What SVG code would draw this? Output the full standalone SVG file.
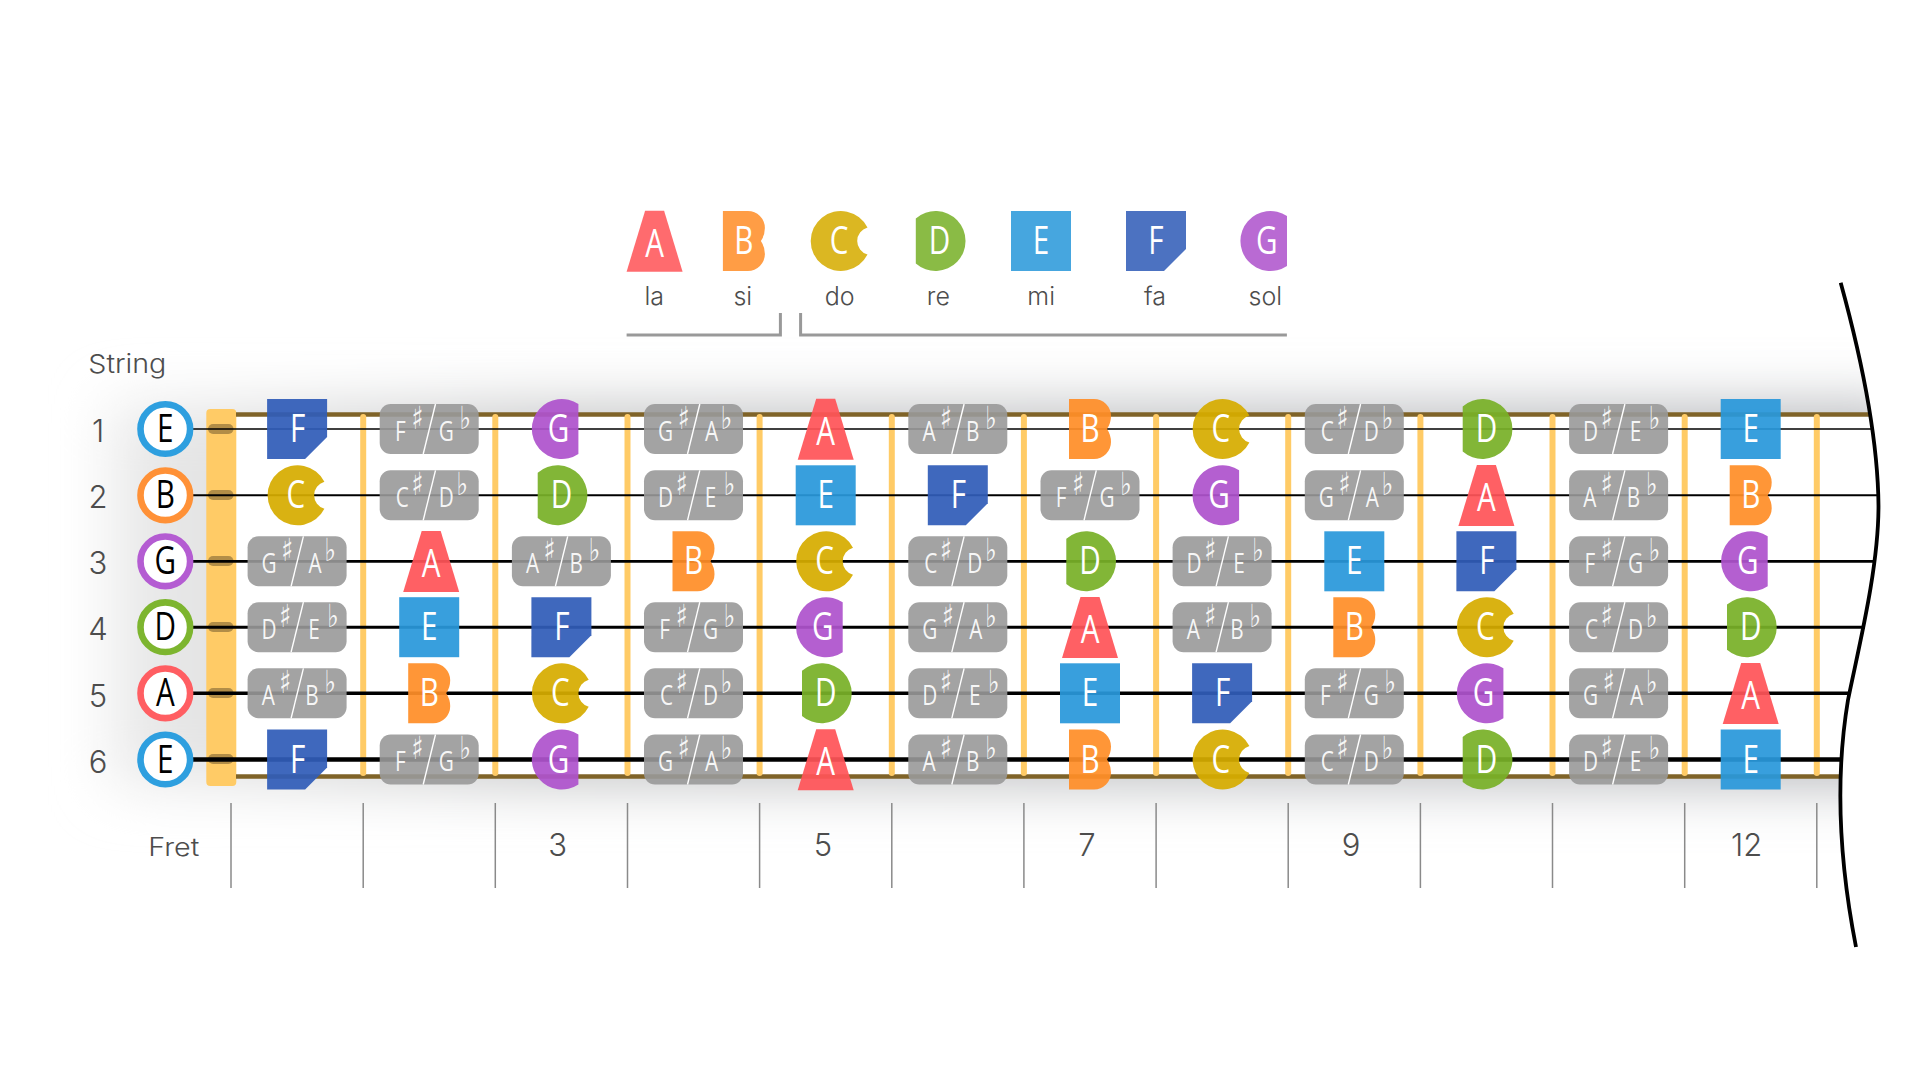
<svg xmlns="http://www.w3.org/2000/svg" width="1916" height="1080" viewBox="0 0 1916 1080">
<style>
.n{font-family:"Open Sans","Liberation Sans",sans-serif;font-size:38px;fill:#fff;text-anchor:middle;transform:scale(.78,1)}
.k{fill:#000}
.p{font-family:"Open Sans","Liberation Sans",sans-serif;font-size:26.6px;fill:#fff;fill-opacity:.92;text-anchor:middle;transform:scale(.78,1)}
.s{font-family:"DejaVu Sans",sans-serif;font-size:32px}
.t{font-family:Inter,"Liberation Sans",sans-serif;font-weight:300;fill:#4d4d4d;text-anchor:middle}
.num{font-size:31px}
.lab{font-size:25px}
.ring{fill:#fff;stroke-width:6.6}
.str{stroke:#000;fill:none}
.fret{stroke:#ffcb66;stroke-width:6;stroke-linecap:round}
.tick{stroke:#8a8a8a;stroke-width:1.5}
.slot{fill:#000;fill-opacity:.3}
.brown{stroke:#7f6328;fill:none}
.fa{fill:#ff5458;fill-opacity:.93}
.fb{fill:#ff8e28;fill-opacity:.93}
.fc{fill:#d6ac00;fill-opacity:.93}
.fd{fill:#78b028;fill-opacity:.93}
.fe{fill:#2998da;fill-opacity:.93}
.ff{fill:#305cb8;fill-opacity:.93}
.fg{fill:#ae53cc;fill-opacity:.93}
.leg{opacity:.93}
</style>
<defs>
<filter id="blur" filterUnits="userSpaceOnUse" x="0" y="250" width="1916" height="700"><feGaussianBlur stdDeviation="28"/></filter>
<linearGradient id="shade" x1="0" x2="1" y1="0" y2="0"><stop offset="0" stop-color="#ececec"/><stop offset=".25" stop-color="#c6c7c8"/><stop offset="1" stop-color="#b8babe"/></linearGradient>
<clipPath id="edge"><path d="M0,200 L1840.7,200 L1840.7,282.7 C1862,360 1878,440 1878.5,506 C1878.5,570 1858,650 1848,700 C1838,760 1835,840 1856,947 L0,947Z"/></clipPath>
<path id="A" class="fa" d="M-9.5,-30.3 H9.5 L28,30.7 H-28Z"/>
<path id="B" class="fb" d="M-21,-30 H4 A17,17 0 0 1 21,-13 Q21,-6 17,0 Q21,6 21,13 A17,17 0 0 1 4,30 H-21Z"/>
<path id="C" class="fc" d="M27.3,-13.5 A30,30 0 1 0 27.3,13.5 A14,14 0 0 1 27.3,-13.5Z"/>
<path id="D" class="fd" d="M-23.7,-22.6 A30,30 0 1 1 -23.7,22.6Z"/>
<rect id="E" class="fe" x="-30" y="-30" width="60" height="60"/>
<path id="F" class="ff" d="M-30,-30 H30 V8 L8,30 H-30Z"/>
<path id="G" class="fg" d="M17,-25 A30,30 0 1 0 17,25Z"/>
<g id="pill"><rect x="-49.5" y="-25" width="99" height="50" rx="11" fill="#999" fill-opacity=".9"/><line x1="6.3" y1="-25" x2="-6" y2="25" stroke="#fff" stroke-width="1.4"/></g>
</defs>

<g id="board">
<rect x="110" y="404" width="1800" height="382" fill="url(#shade)" filter="url(#blur)" clip-path="url(#edge)"/>
<rect x="220" y="414" width="1690" height="363" fill="#fff" clip-path="url(#edge)"/>
<rect x="206.3" y="409" width="30" height="377" rx="4" fill="#ffcb66"/>
</g>

<g id="connectors">
<line class="brown" stroke-width="4.3" x1="236" y1="414.5" x2="1869" y2="414.5"/>
<line class="brown" stroke-width="4.7" x1="236" y1="776.5" x2="1840" y2="776.5"/>
<g id="frets">
<line class="fret" x1="363.2" y1="417" x2="363.2" y2="773"/>
<line class="fret" x1="495.3" y1="417" x2="495.3" y2="773"/>
<line class="fret" x1="627.5" y1="417" x2="627.5" y2="773"/>
<line class="fret" x1="759.6" y1="417" x2="759.6" y2="773"/>
<line class="fret" x1="891.8" y1="417" x2="891.8" y2="773"/>
<line class="fret" x1="1023.9" y1="417" x2="1023.9" y2="773"/>
<line class="fret" x1="1156.1" y1="417" x2="1156.1" y2="773"/>
<line class="fret" x1="1288.2" y1="417" x2="1288.2" y2="773"/>
<line class="fret" x1="1420.4" y1="417" x2="1420.4" y2="773"/>
<line class="fret" x1="1552.5" y1="417" x2="1552.5" y2="773"/>
<line class="fret" x1="1684.7" y1="417" x2="1684.7" y2="773"/>
<line class="fret" x1="1816.8" y1="417" x2="1816.8" y2="773"/>
</g>
<g id="slots">
<rect class="slot" x="208" y="424" width="25.5" height="10" rx="5"/>
<rect class="slot" x="208" y="490" width="25.5" height="10" rx="5"/>
<rect class="slot" x="208" y="556" width="25.5" height="10" rx="5"/>
<rect class="slot" x="208" y="622" width="25.5" height="10" rx="5"/>
<rect class="slot" x="208" y="688" width="25.5" height="10" rx="5"/>
<rect class="slot" x="208" y="754" width="25.5" height="10" rx="5"/>
</g>
<g id="strings">
<line class="str" stroke-width="1.7" x1="193" y1="429" x2="1871" y2="429"/>
<line class="str" stroke-width="2" x1="193" y1="495.3" x2="1877.5" y2="495.3"/>
<line class="str" stroke-width="2.7" x1="193" y1="561.3" x2="1873" y2="561.3"/>
<line class="str" stroke-width="3" x1="193" y1="627.2" x2="1865" y2="627.2"/>
<line class="str" stroke-width="3.4" x1="193" y1="693.3" x2="1850" y2="693.3"/>
<line class="str" stroke-width="4.4" x1="193" y1="759.5" x2="1841" y2="759.5"/>
</g>
<path id="edge-line" d="M1840.7,282.7 C1862,360 1878,440 1878.5,506 C1878.5,570 1858,650 1848,700 C1838,760 1835,840 1856,947" fill="none" stroke="#000" stroke-width="3.8"/>
<g id="ticks">
<line class="tick" x1="231" y1="803" x2="231" y2="888"/>
<line class="tick" x1="363.2" y1="803" x2="363.2" y2="888"/>
<line class="tick" x1="495.3" y1="803" x2="495.3" y2="888"/>
<line class="tick" x1="627.5" y1="803" x2="627.5" y2="888"/>
<line class="tick" x1="759.6" y1="803" x2="759.6" y2="888"/>
<line class="tick" x1="891.8" y1="803" x2="891.8" y2="888"/>
<line class="tick" x1="1023.9" y1="803" x2="1023.9" y2="888"/>
<line class="tick" x1="1156.1" y1="803" x2="1156.1" y2="888"/>
<line class="tick" x1="1288.2" y1="803" x2="1288.2" y2="888"/>
<line class="tick" x1="1420.4" y1="803" x2="1420.4" y2="888"/>
<line class="tick" x1="1552.5" y1="803" x2="1552.5" y2="888"/>
<line class="tick" x1="1684.7" y1="803" x2="1684.7" y2="888"/>
<line class="tick" x1="1816.8" y1="803" x2="1816.8" y2="888"/>
</g>
<path id="bracket-left" d="M626.6,335 H780.4 V313" fill="none" stroke="#999" stroke-width="3"/>
<path id="bracket-right" d="M800.6,313 V335 H1286.9" fill="none" stroke="#999" stroke-width="3"/>
</g>

<g id="legend">
<g id="leg-a" transform="translate(654.6 241)"><use class="leg" href="#A"/><text class="n" y="15.5">A</text></g>
<g id="leg-b" transform="translate(743.9 241)"><use class="leg" href="#B"/><text class="n" y="12.5">B</text></g>
<g id="leg-c" transform="translate(840.2 241)"><use class="leg" href="#C"/><text class="n" x="-1.5" y="12.5">C</text></g>
<g id="leg-d" transform="translate(939.5 241)"><use class="leg" href="#D"/><text class="n" y="12.5">D</text></g>
<g id="leg-e" transform="translate(1041 241)"><use class="leg" href="#E"/><text class="n" y="12.5">E</text></g>
<g id="leg-f" transform="translate(1156 241)"><use class="leg" href="#F"/><text class="n" y="12.5">F</text></g>
<g id="leg-g" transform="translate(1270 241)"><use class="leg" href="#G"/><text class="n" x="-4.2" y="12.5">G</text></g>
<text class="t lab" x="654.2" y="305">la</text>
<text class="t lab" x="742.8" y="305">si</text>
<text class="t lab" x="839.7" y="305">do</text>
<text class="t lab" x="938.4" y="305">re</text>
<text class="t lab" x="1041.2" y="305">mi</text>
<text class="t lab" x="1155" y="305">fa</text>
<text class="t lab" x="1265.3" y="305">sol</text>
</g>

<g id="captions">
<text class="t" x="127.3" y="372.7" font-size="26" textLength="78" lengthAdjust="spacingAndGlyphs">String</text>
<text class="t" x="173.8" y="855.7" font-size="25" textLength="51" lengthAdjust="spacingAndGlyphs">Fret</text>
<text class="t num" x="98" y="442.3">1</text>
<text class="t num" x="98" y="508.3">2</text>
<text class="t num" x="98" y="574.3">3</text>
<text class="t num" x="98" y="640.3">4</text>
<text class="t num" x="98" y="706.5">5</text>
<text class="t num" x="98" y="772.5">6</text>
<text class="t num" x="557.7" y="856">3</text>
<text class="t num" x="823" y="856">5</text>
<text class="t num" x="1087" y="856">7</text>
<text class="t num" x="1351" y="856">9</text>
<text class="t num" x="1746.7" y="856">12</text>
</g>

<g id="open-strings">
<g id="open1" transform="translate(165.3 429)"><circle class="ring" r="24.8" stroke="#2e9fdf"/><text class="n k" y="13">E</text></g>
<g id="open2" transform="translate(165.3 495.3)"><circle class="ring" r="24.8" stroke="#ff9137"/><text class="n k" y="13">B</text></g>
<g id="open3" transform="translate(165.3 561.3)"><circle class="ring" r="24.8" stroke="#b45cd2"/><text class="n k" y="13">G</text></g>
<g id="open4" transform="translate(165.3 627.2)"><circle class="ring" r="24.8" stroke="#7db52f"/><text class="n k" y="13">D</text></g>
<g id="open5" transform="translate(165.3 693.3)"><circle class="ring" r="24.8" stroke="#ff5e62"/><text class="n k" y="13">A</text></g>
<g id="open6" transform="translate(165.3 759.5)"><circle class="ring" r="24.8" stroke="#2e9fdf"/><text class="n k" y="13">E</text></g>
</g>

<g id="string1">
<g id="s1f1" transform="translate(297.1 429)"><use href="#F"/><text class="n" x=".7" y="13">F</text></g>
<g id="s1f2" transform="translate(429.2 429)"><use href="#pill"/><text class="p"><tspan x="-37" y="11.7">F</tspan><tspan class="s" x="-15.4" y="-.5">♯</tspan><tspan x="21.8" y="11.7">G</tspan><tspan class="s" x="46" y="-.5">♭</tspan></text></g>
<g id="s1f3" transform="translate(561.4 429)"><use href="#G"/><text class="n" x="-3.8" y="13">G</text></g>
<g id="s1f4" transform="translate(693.5 429)"><use href="#pill"/><text class="p"><tspan x="-36" y="11.7">G</tspan><tspan class="s" x="-12.8" y="-.5">♯</tspan><tspan x="23" y="11.7">A</tspan><tspan class="s" x="42.3" y="-.5">♭</tspan></text></g>
<g id="s1f5" transform="translate(825.7 429)"><use href="#A"/><text class="n" y="15.5">A</text></g>
<g id="s1f6" transform="translate(957.8 429)"><use href="#pill"/><text class="p"><tspan x="-37" y="11.7">A</tspan><tspan class="s" x="-15.4" y="-.5">♯</tspan><tspan x="19" y="11.7">B</tspan><tspan class="s" x="42.3" y="-.5">♭</tspan></text></g>
<g id="s1f7" transform="translate(1090 429)"><use href="#B"/><text class="n" y="13">B</text></g>
<g id="s1f8" transform="translate(1222.1 429)"><use href="#C"/><text class="n" x="-1.5" y="13">C</text></g>
<g id="s1f9" transform="translate(1354.3 429)"><use href="#pill"/><text class="p"><tspan x="-34.6" y="11.7">C</tspan><tspan class="s" x="-15.4" y="-.5">♯</tspan><tspan x="21.8" y="11.7">D</tspan><tspan class="s" x="42.3" y="-.5">♭</tspan></text></g>
<g id="s1f10" transform="translate(1486.4 429)"><use href="#D"/><text class="n" y="13">D</text></g>
<g id="s1f11" transform="translate(1618.6 429)"><use href="#pill"/><text class="p"><tspan x="-36" y="11.7">D</tspan><tspan class="s" x="-15.4" y="-.5">♯</tspan><tspan x="21.8" y="11.7">E</tspan><tspan class="s" x="46" y="-.5">♭</tspan></text></g>
<g id="s1f12" transform="translate(1750.7 429)"><use href="#E"/><text class="n" y="13">E</text></g>
</g>

<g id="string2">
<g id="s2f1" transform="translate(297.1 495.3)"><use href="#C"/><text class="n" x="-1.5" y="13">C</text></g>
<g id="s2f2" transform="translate(429.2 495.3)"><use href="#pill"/><text class="p"><tspan x="-34.6" y="11.7">C</tspan><tspan class="s" x="-15.4" y="-.5">♯</tspan><tspan x="21.8" y="11.7">D</tspan><tspan class="s" x="42.3" y="-.5">♭</tspan></text></g>
<g id="s2f3" transform="translate(561.4 495.3)"><use href="#D"/><text class="n" y="13">D</text></g>
<g id="s2f4" transform="translate(693.5 495.3)"><use href="#pill"/><text class="p"><tspan x="-36" y="11.7">D</tspan><tspan class="s" x="-15.4" y="-.5">♯</tspan><tspan x="21.8" y="11.7">E</tspan><tspan class="s" x="46" y="-.5">♭</tspan></text></g>
<g id="s2f5" transform="translate(825.7 495.3)"><use href="#E"/><text class="n" y="13">E</text></g>
<g id="s2f6" transform="translate(957.8 495.3)"><use href="#F"/><text class="n" x=".7" y="13">F</text></g>
<g id="s2f7" transform="translate(1090 495.3)"><use href="#pill"/><text class="p"><tspan x="-37" y="11.7">F</tspan><tspan class="s" x="-15.4" y="-.5">♯</tspan><tspan x="21.8" y="11.7">G</tspan><tspan class="s" x="46" y="-.5">♭</tspan></text></g>
<g id="s2f8" transform="translate(1222.1 495.3)"><use href="#G"/><text class="n" x="-3.8" y="13">G</text></g>
<g id="s2f9" transform="translate(1354.3 495.3)"><use href="#pill"/><text class="p"><tspan x="-36" y="11.7">G</tspan><tspan class="s" x="-12.8" y="-.5">♯</tspan><tspan x="23" y="11.7">A</tspan><tspan class="s" x="42.3" y="-.5">♭</tspan></text></g>
<g id="s2f10" transform="translate(1486.4 495.3)"><use href="#A"/><text class="n" y="15.5">A</text></g>
<g id="s2f11" transform="translate(1618.6 495.3)"><use href="#pill"/><text class="p"><tspan x="-37" y="11.7">A</tspan><tspan class="s" x="-15.4" y="-.5">♯</tspan><tspan x="19" y="11.7">B</tspan><tspan class="s" x="42.3" y="-.5">♭</tspan></text></g>
<g id="s2f12" transform="translate(1750.7 495.3)"><use href="#B"/><text class="n" y="13">B</text></g>
</g>

<g id="string3">
<g id="s3f1" transform="translate(297.1 561.3)"><use href="#pill"/><text class="p"><tspan x="-36" y="11.7">G</tspan><tspan class="s" x="-12.8" y="-.5">♯</tspan><tspan x="23" y="11.7">A</tspan><tspan class="s" x="42.3" y="-.5">♭</tspan></text></g>
<g id="s3f2" transform="translate(431.2 561.3)"><use href="#A"/><text class="n" y="15.5">A</text></g>
<g id="s3f3" transform="translate(561.4 561.3)"><use href="#pill"/><text class="p"><tspan x="-37" y="11.7">A</tspan><tspan class="s" x="-15.4" y="-.5">♯</tspan><tspan x="19" y="11.7">B</tspan><tspan class="s" x="42.3" y="-.5">♭</tspan></text></g>
<g id="s3f4" transform="translate(693.5 561.3)"><use href="#B"/><text class="n" y="13">B</text></g>
<g id="s3f5" transform="translate(825.7 561.3)"><use href="#C"/><text class="n" x="-1.5" y="13">C</text></g>
<g id="s3f6" transform="translate(957.8 561.3)"><use href="#pill"/><text class="p"><tspan x="-34.6" y="11.7">C</tspan><tspan class="s" x="-15.4" y="-.5">♯</tspan><tspan x="21.8" y="11.7">D</tspan><tspan class="s" x="42.3" y="-.5">♭</tspan></text></g>
<g id="s3f7" transform="translate(1090 561.3)"><use href="#D"/><text class="n" y="13">D</text></g>
<g id="s3f8" transform="translate(1222.1 561.3)"><use href="#pill"/><text class="p"><tspan x="-36" y="11.7">D</tspan><tspan class="s" x="-15.4" y="-.5">♯</tspan><tspan x="21.8" y="11.7">E</tspan><tspan class="s" x="46" y="-.5">♭</tspan></text></g>
<g id="s3f9" transform="translate(1354.3 561.3)"><use href="#E"/><text class="n" y="13">E</text></g>
<g id="s3f10" transform="translate(1486.4 561.3)"><use href="#F"/><text class="n" x=".7" y="13">F</text></g>
<g id="s3f11" transform="translate(1618.6 561.3)"><use href="#pill"/><text class="p"><tspan x="-37" y="11.7">F</tspan><tspan class="s" x="-15.4" y="-.5">♯</tspan><tspan x="21.8" y="11.7">G</tspan><tspan class="s" x="46" y="-.5">♭</tspan></text></g>
<g id="s3f12" transform="translate(1750.7 561.3)"><use href="#G"/><text class="n" x="-3.8" y="13">G</text></g>
</g>

<g id="string4">
<g id="s4f1" transform="translate(297.1 627.2)"><use href="#pill"/><text class="p"><tspan x="-36" y="11.7">D</tspan><tspan class="s" x="-15.4" y="-.5">♯</tspan><tspan x="21.8" y="11.7">E</tspan><tspan class="s" x="46" y="-.5">♭</tspan></text></g>
<g id="s4f2" transform="translate(429.2 627.2)"><use href="#E"/><text class="n" y="13">E</text></g>
<g id="s4f3" transform="translate(561.4 627.2)"><use href="#F"/><text class="n" x=".7" y="13">F</text></g>
<g id="s4f4" transform="translate(693.5 627.2)"><use href="#pill"/><text class="p"><tspan x="-37" y="11.7">F</tspan><tspan class="s" x="-15.4" y="-.5">♯</tspan><tspan x="21.8" y="11.7">G</tspan><tspan class="s" x="46" y="-.5">♭</tspan></text></g>
<g id="s4f5" transform="translate(825.7 627.2)"><use href="#G"/><text class="n" x="-3.8" y="13">G</text></g>
<g id="s4f6" transform="translate(957.8 627.2)"><use href="#pill"/><text class="p"><tspan x="-36" y="11.7">G</tspan><tspan class="s" x="-12.8" y="-.5">♯</tspan><tspan x="23" y="11.7">A</tspan><tspan class="s" x="42.3" y="-.5">♭</tspan></text></g>
<g id="s4f7" transform="translate(1090 627.2)"><use href="#A"/><text class="n" y="15.5">A</text></g>
<g id="s4f8" transform="translate(1222.1 627.2)"><use href="#pill"/><text class="p"><tspan x="-37" y="11.7">A</tspan><tspan class="s" x="-15.4" y="-.5">♯</tspan><tspan x="19" y="11.7">B</tspan><tspan class="s" x="42.3" y="-.5">♭</tspan></text></g>
<g id="s4f9" transform="translate(1354.3 627.2)"><use href="#B"/><text class="n" y="13">B</text></g>
<g id="s4f10" transform="translate(1486.4 627.2)"><use href="#C"/><text class="n" x="-1.5" y="13">C</text></g>
<g id="s4f11" transform="translate(1618.6 627.2)"><use href="#pill"/><text class="p"><tspan x="-34.6" y="11.7">C</tspan><tspan class="s" x="-15.4" y="-.5">♯</tspan><tspan x="21.8" y="11.7">D</tspan><tspan class="s" x="42.3" y="-.5">♭</tspan></text></g>
<g id="s4f12" transform="translate(1750.7 627.2)"><use href="#D"/><text class="n" y="13">D</text></g>
</g>

<g id="string5">
<g id="s5f1" transform="translate(297.1 693.3)"><use href="#pill"/><text class="p"><tspan x="-37" y="11.7">A</tspan><tspan class="s" x="-15.4" y="-.5">♯</tspan><tspan x="19" y="11.7">B</tspan><tspan class="s" x="42.3" y="-.5">♭</tspan></text></g>
<g id="s5f2" transform="translate(429.2 693.3)"><use href="#B"/><text class="n" y="13">B</text></g>
<g id="s5f3" transform="translate(561.4 693.3)"><use href="#C"/><text class="n" x="-1.5" y="13">C</text></g>
<g id="s5f4" transform="translate(693.5 693.3)"><use href="#pill"/><text class="p"><tspan x="-34.6" y="11.7">C</tspan><tspan class="s" x="-15.4" y="-.5">♯</tspan><tspan x="21.8" y="11.7">D</tspan><tspan class="s" x="42.3" y="-.5">♭</tspan></text></g>
<g id="s5f5" transform="translate(825.7 693.3)"><use href="#D"/><text class="n" y="13">D</text></g>
<g id="s5f6" transform="translate(957.8 693.3)"><use href="#pill"/><text class="p"><tspan x="-36" y="11.7">D</tspan><tspan class="s" x="-15.4" y="-.5">♯</tspan><tspan x="21.8" y="11.7">E</tspan><tspan class="s" x="46" y="-.5">♭</tspan></text></g>
<g id="s5f7" transform="translate(1090 693.3)"><use href="#E"/><text class="n" y="13">E</text></g>
<g id="s5f8" transform="translate(1222.1 693.3)"><use href="#F"/><text class="n" x=".7" y="13">F</text></g>
<g id="s5f9" transform="translate(1354.3 693.3)"><use href="#pill"/><text class="p"><tspan x="-37" y="11.7">F</tspan><tspan class="s" x="-15.4" y="-.5">♯</tspan><tspan x="21.8" y="11.7">G</tspan><tspan class="s" x="46" y="-.5">♭</tspan></text></g>
<g id="s5f10" transform="translate(1486.4 693.3)"><use href="#G"/><text class="n" x="-3.8" y="13">G</text></g>
<g id="s5f11" transform="translate(1618.6 693.3)"><use href="#pill"/><text class="p"><tspan x="-36" y="11.7">G</tspan><tspan class="s" x="-12.8" y="-.5">♯</tspan><tspan x="23" y="11.7">A</tspan><tspan class="s" x="42.3" y="-.5">♭</tspan></text></g>
<g id="s5f12" transform="translate(1750.7 693.3)"><use href="#A"/><text class="n" y="15.5">A</text></g>
</g>

<g id="string6">
<g id="s6f1" transform="translate(297.1 759.5)"><use href="#F"/><text class="n" x=".7" y="13">F</text></g>
<g id="s6f2" transform="translate(429.2 759.5)"><use href="#pill"/><text class="p"><tspan x="-37" y="11.7">F</tspan><tspan class="s" x="-15.4" y="-.5">♯</tspan><tspan x="21.8" y="11.7">G</tspan><tspan class="s" x="46" y="-.5">♭</tspan></text></g>
<g id="s6f3" transform="translate(561.4 759.5)"><use href="#G"/><text class="n" x="-3.8" y="13">G</text></g>
<g id="s6f4" transform="translate(693.5 759.5)"><use href="#pill"/><text class="p"><tspan x="-36" y="11.7">G</tspan><tspan class="s" x="-12.8" y="-.5">♯</tspan><tspan x="23" y="11.7">A</tspan><tspan class="s" x="42.3" y="-.5">♭</tspan></text></g>
<g id="s6f5" transform="translate(825.7 759.5)"><use href="#A"/><text class="n" y="15.5">A</text></g>
<g id="s6f6" transform="translate(957.8 759.5)"><use href="#pill"/><text class="p"><tspan x="-37" y="11.7">A</tspan><tspan class="s" x="-15.4" y="-.5">♯</tspan><tspan x="19" y="11.7">B</tspan><tspan class="s" x="42.3" y="-.5">♭</tspan></text></g>
<g id="s6f7" transform="translate(1090 759.5)"><use href="#B"/><text class="n" y="13">B</text></g>
<g id="s6f8" transform="translate(1222.1 759.5)"><use href="#C"/><text class="n" x="-1.5" y="13">C</text></g>
<g id="s6f9" transform="translate(1354.3 759.5)"><use href="#pill"/><text class="p"><tspan x="-34.6" y="11.7">C</tspan><tspan class="s" x="-15.4" y="-.5">♯</tspan><tspan x="21.8" y="11.7">D</tspan><tspan class="s" x="42.3" y="-.5">♭</tspan></text></g>
<g id="s6f10" transform="translate(1486.4 759.5)"><use href="#D"/><text class="n" y="13">D</text></g>
<g id="s6f11" transform="translate(1618.6 759.5)"><use href="#pill"/><text class="p"><tspan x="-36" y="11.7">D</tspan><tspan class="s" x="-15.4" y="-.5">♯</tspan><tspan x="21.8" y="11.7">E</tspan><tspan class="s" x="46" y="-.5">♭</tspan></text></g>
<g id="s6f12" transform="translate(1750.7 759.5)"><use href="#E"/><text class="n" y="13">E</text></g>
</g>
</svg>
